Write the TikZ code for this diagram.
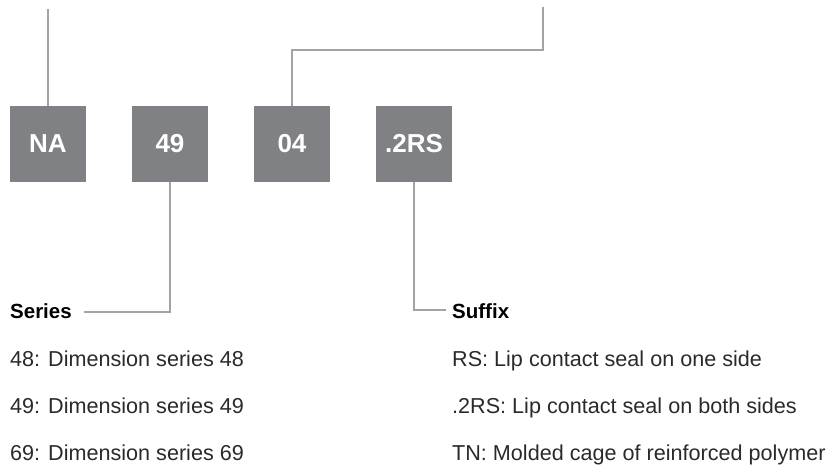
\documentclass[tikz,border=0pt]{standalone}
\usepackage{fontspec}
\setmainfont{Liberation Sans}
\definecolor{boxgray}{HTML}{808185}
\definecolor{linegray}{HTML}{A3A3A3}
\definecolor{bodytxt}{HTML}{2A2A2A}
\begin{document}
\begin{tikzpicture}[x=1pt,y=-1pt,
  codebox/.style={fill=boxgray,draw=none,minimum width=76pt,minimum height=76pt,inner sep=0pt,
    text=white,font=\fontsize{26}{30}\selectfont\bfseries},
  leader/.style={draw=linegray,line width=1.5pt},
  head/.style={anchor=base west,inner sep=0pt,font=\fontsize{20.5}{24}\selectfont\bfseries,text=black},
  body/.style={anchor=base west,inner sep=0pt,font=\fontsize{21.6}{25}\selectfont,text=bodytxt}]
\useasboundingbox (0,0) rectangle (833,465);
% code boxes
\node[codebox] (na)  at (48,144) {NA};
\node[codebox] (s49) at (170,144) {49};
\node[codebox] (s04) at (292,144) {04};
\node[codebox] (rs)  at (414,144) {.2RS};
% free ends
\coordinate (natop) at (48,9);
\coordinate (topr) at (543,7);
\coordinate (serend) at (84,312);
\coordinate (sufend) at (446,310);
% leaders
\draw[leader] (na.north) -- (natop);
\draw[leader] (s04.north) |- (543,50) -- (topr);
\draw[leader] (s49.south) |- (serend);
\draw[leader] (rs.south) |- (sufend);
% left column
\node[head] (series) at (10,319) {Series};
\node[body] (l1) at (10,366) {48: Dimension series 48};
\node[body] (l2) at (10,413) {49: Dimension series 49};
\node[body] (l3) at (10,460) {69: Dimension series 69};
% right column
\node[head] (suffix) at (452,319) {Suffix};
\node[body] (r1) at (452,366) {RS: Lip contact seal on one side};
\node[body] (r2) at (452,413) {.2RS: Lip contact seal on both sides};
\node[body] (r3) at (452,460) {TN: Molded cage of reinforced polymer};
\end{tikzpicture}
\end{document}
